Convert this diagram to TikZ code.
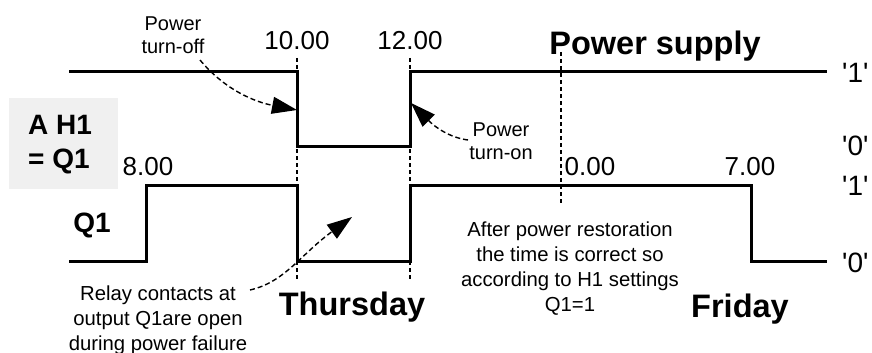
\documentclass[tikz,border=0pt]{standalone}
\usepackage{fontspec}
\setmainfont{Liberation Sans}
\usetikzlibrary{arrows.meta}
\begin{document}
\begin{tikzpicture}[x=1pt,y=-1pt,
  sig/.style={line width=3pt, line join=miter},
  guide/.style={line width=1.1pt, dash pattern=on 4pt off 3pt},
  callout/.style={line width=1.4pt, dash pattern=on 5pt off 3pt, -{Triangle[length=25pt,width=17pt]}},
  bigbold/.style={font=\fontsize{32.5}{36}\selectfont\bfseries, inner sep=0pt, anchor=base},
  midbold/.style={font=\fontsize{28}{34}\selectfont\bfseries, inner sep=0pt, anchor=base},
  mid/.style={font=\fontsize{26}{28}\selectfont, inner sep=0pt, anchor=base},
  level/.style={font=\fontsize{28}{30}\selectfont, inner sep=0pt, anchor=base west},
  note/.style={font=\fontsize{20.3}{25}\selectfont, inner sep=0pt, align=center, anchor=base},
  smallnote/.style={font=\fontsize{20}{23}\selectfont, inner sep=0pt, align=center, anchor=base},
]
\useasboundingbox (0,0) rectangle (872,353);

% gray box
\fill[gray!12] (9,98) rectangle (118,189);
\node[midbold, anchor=base west, align=left] (ah) at (28,168) {A H1\\= Q1};

% guides
\draw[guide] (297,58) -- (297,280);
\draw[guide] (410,58) -- (410,280);
\draw[guide] (561,52) -- (561,203);

% signals
\draw[sig] (69,71) -- (297,71) -- (297,146) -- (410,146) -- (410,71) -- (827,71);
\draw[sig] (69,261) -- (146,261) -- (146,185) -- (297,185) -- (297,261) -- (410,261) -- (410,185) -- (751,185) -- (751,261) -- (827,261);

% time labels
\node[mid] (t10) at (297,50) {10.00};
\node[mid] (t12) at (410,50) {12.00};
\node[mid] (t8) at (148,175) {8.00};
\node[mid] (t0) at (590,175) {0.00};
\node[mid] (t7) at (750,175) {7.00};

% level labels
\node[level] (p1) at (842,82) {\textquotesingle1\textquotesingle};
\node[level] (p0) at (842,155) {\textquotesingle0\textquotesingle};
\node[level] (q1l) at (842,195) {\textquotesingle1\textquotesingle};
\node[level] (q0l) at (842,272) {\textquotesingle0\textquotesingle};

% titles
\node[bigbold] (ps) at (655,55) {Power supply};
\node[midbold] (q1) at (92,232) {Q1};
\node[bigbold] (thu) at (352,315) {Thursday};
\node[bigbold] (fri) at (740,317) {Friday};

% notes
\node[smallnote] (off) at (173,53) {Power\\turn-off};
\node[smallnote] (on) at (501,159) {Power\\turn-on};
\node[note] (relay) at (158,350) {Relay contacts at\\output Q1are open\\during power failure};
\node[note] (after) at (570,311) {After power restoration\\the time is correct so\\according to H1 settings\\Q1=1};

% callouts
\coordinate (offs) at (200,60);
\coordinate (offt) at (297,110);
\coordinate (ons) at (468,140);
\coordinate (ont) at (411,103);
\coordinate (rels) at (250,290);
\coordinate (relt) at (352,217);
\draw[callout] (offs) .. controls (225,90) and (255,102) .. (offt);
\draw[callout] (ons) .. controls (445,137) and (430,122) .. (ont);
\draw[callout] (rels) .. controls (285,282) and (300,255) .. (relt);
\end{tikzpicture}
\end{document}
